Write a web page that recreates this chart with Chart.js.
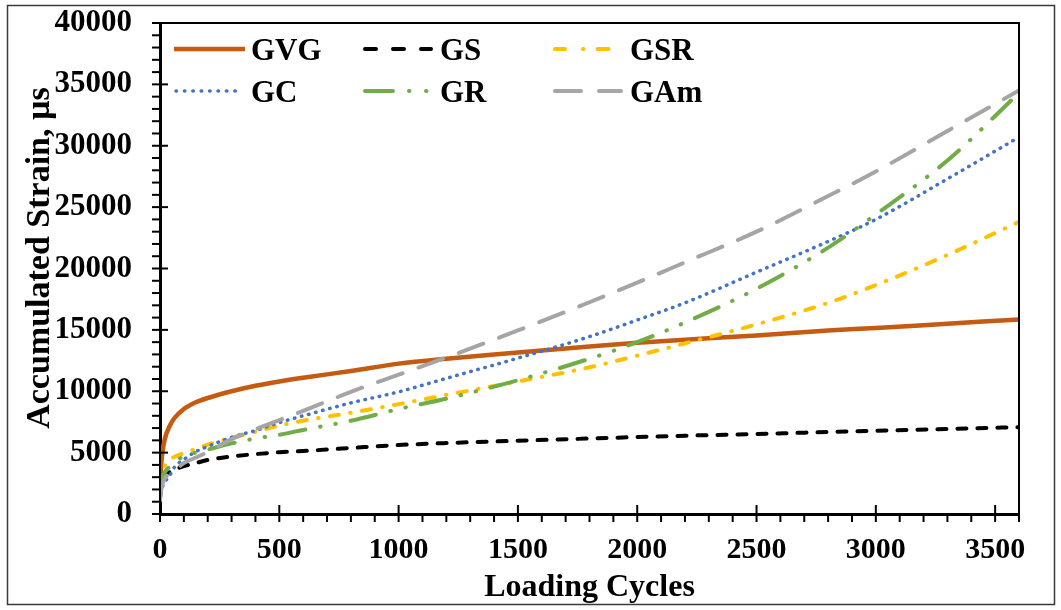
<!DOCTYPE html>
<html>
<head>
<meta charset="utf-8">
<script src="https://cdn.jsdelivr.net/npm/chart.js@4.4.1/dist/chart.umd.min.js"></script>
<style>
  html, body { margin: 0; padding: 0; background: #fff; }
  #wrap { width: 1061px; height: 610px; }
</style>
</head>
<body>
<div id="wrap"><canvas id="chart" width="1061" height="610"></canvas></div>
<script>
// values
const cycles = [0, 5, 10, 20, 40, 60, 100, 150, 200, 300, 400, 500, 600, 800, 1000, 1200, 1500, 1800, 2000, 2200, 2500, 2800, 3000, 3300, 3600];
const gvg = [2000, 4000, 5000, 6100, 7150, 7800, 8550, 9100, 9450, 10000, 10450, 10800, 11100, 11650, 12250, 12650, 13150, 13650, 13950, 14200, 14550, 14950, 15150, 15500, 15850];
const gs  = [1300, 2200, 2700, 3150, 3400, 3600, 3900, 4150, 4400, 4680, 4880, 5030, 5130, 5380, 5620, 5780, 5970, 6150, 6270, 6380, 6520, 6680, 6780, 6930, 7080];
const gsr = [2300, 3000, 3400, 3900, 4400, 4650, 4950, 5300, 5650, 6200, 6700, 7200, 7600, 8250, 8950, 9700, 10800, 11950, 12900, 13900, 15450, 17200, 18650, 21100, 23800];
const gc  = [1700, 2000, 2200, 2600, 3100, 3800, 4450, 5080, 5500, 6250, 6800, 7450, 8000, 9050, 9950, 11050, 12700, 14450, 15800, 17200, 19700, 22200, 24000, 27300, 30700];
const gr  = [1800, 2500, 2900, 3400, 3850, 4200, 4700, 5000, 5250, 5750, 6150, 6450, 6850, 7600, 8550, 9400, 10900, 12650, 14000, 15600, 18350, 21700, 24400, 28800, 34300];
const gam = [1100, 2000, 2400, 2900, 3300, 3550, 4150, 4600, 5050, 6100, 6900, 7650, 8400, 9950, 11350, 12750, 14950, 17250, 18850, 20500, 23000, 25900, 27900, 31200, 34500];

const seriesNames = ['GVG', 'GS', 'GSR', 'GC', 'GR', 'GAm'];
const xTicks = [0, 500, 1000, 1500, 2000, 2500, 3000, 3500];
const yTicks = [0, 5000, 10000, 15000, 20000, 25000, 30000, 35000, 40000];
const xTitle = 'Loading Cycles';
const yTitle = 'Accumulated Strain, µs';

const FONT = "'Liberation Serif', 'Times New Roman', serif";

const pts = arr => arr.map((v, i) => ({ x: cycles[i], y: v }));

function line(label, values, color, width, dash, order) {
  return {
    label: label,
    data: pts(values),
    borderColor: color,
    backgroundColor: color,
    borderWidth: width,
    borderDash: dash,
    borderCapStyle: dash.length ? 'round' : 'butt',
    pointRadius: 0,
    fill: false,
    cubicInterpolationMode: 'monotone',
    order: order
  };
}

const datasets = [
  line(seriesNames[0], gvg, '#C55A11', 4.5, [], 6),
  line(seriesNames[1], gs, '#000000', 4, [9, 11], 5),
  line(seriesNames[2], gsr, '#FFC000', 4, [9, 11.5, 0.5, 11.5], 4),
  line(seriesNames[3], gc, '#4472C4', 3.5, [0.5, 6.8], 3),
  line(seriesNames[4], gr, '#70AD47', 4, [26, 15, 0.5, 15, 0.5, 15], 2),
  line(seriesNames[5], gam, '#A5A5A5', 4, [26, 17], 1)
];

// legend: slot positions and the sample dash patterns
const legendSlots = [[174, 49], [363, 49], [553, 49], [174, 91], [363, 91], [553, 91]];
const legendDash = [[], [11, 17], [10, 18, 0.5, 14, 11, 100], [0.5, 7.9], [28, 16, 0.5, 16.5, 0.5, 20], [26, 18, 22, 100]];

function minorTicks(ctx, scale, majors, horizontal, edge) {
  const step = (majors[1] - majors[0]) / 5;
  for (let v = scale.min; v <= scale.max + 1e-6; v += step) {
    const p = scale.getPixelForValue(v);
    const major = majors.some(m => Math.abs(m - v) < 1e-6);
    ctx.beginPath();
    if (horizontal) {
      ctx.moveTo(p, edge + 8);
      ctx.lineTo(p, edge - (major ? 9 : 0));
    } else {
      ctx.moveTo(edge - 8, p);
      ctx.lineTo(edge + (major ? 8 : 0), p);
    }
    ctx.stroke();
  }
}

const framePlugin = {
  id: 'frame',
  beforeDraw(chart) {
    const ctx = chart.ctx;
    ctx.save();
    ctx.fillStyle = '#fff';
    ctx.fillRect(0, 0, chart.width, chart.height);
    ctx.strokeStyle = '#3a3a3a';
    ctx.lineWidth = 1.5;
    ctx.strokeRect(7.5, 5.5, 1047, 599);
    ctx.restore();
  },
  afterDraw(chart) {
    const { ctx, chartArea: a, scales: { x, y } } = chart;
    ctx.save();
    ctx.strokeStyle = '#000';
    ctx.lineWidth = 2;
    ctx.strokeRect(a.left, a.top, a.right - a.left, a.bottom - a.top);
    minorTicks(ctx, y, yTicks, false, a.left);
    minorTicks(ctx, x, xTicks, true, a.bottom);

    // y axis title, placed a little above the axis middle as in the original
    ctx.save();
    ctx.translate(49, 258);
    ctx.rotate(-Math.PI / 2);
    ctx.font = 'bold 34px ' + FONT;
    ctx.fillStyle = '#000';
    ctx.textAlign = 'center';
    ctx.textBaseline = 'alphabetic';
    ctx.fillText(yTitle, 0, 0);
    ctx.restore();

    // legend
    ctx.font = 'bold 31px ' + FONT;
    ctx.textBaseline = 'alphabetic';
    ctx.textAlign = 'left';
    chart.data.datasets.forEach((ds, i) => {
      const [lx, ly] = legendSlots[i];
      ctx.save();
      ctx.strokeStyle = ds.borderColor;
      ctx.lineWidth = ds.borderWidth;
      const dash = legendDash[i];
      ctx.setLineDash(dash);
      ctx.lineCap = dash.length ? 'round' : 'butt';
      ctx.beginPath();
      if (dash.length) {
        ctx.moveTo(lx + 2, ly);
        ctx.lineTo(lx + 68, ly);
      } else {
        ctx.moveTo(lx, ly);
        ctx.lineTo(lx + 71, ly);
      }
      ctx.stroke();
      ctx.restore();
      ctx.fillStyle = '#000';
      ctx.fillText(ds.label, lx + 77, ly + 11);
    });
    ctx.restore();
  }
};

new Chart(document.getElementById('chart'), {
  type: 'line',
  data: { datasets: datasets },
  plugins: [framePlugin],
  options: {
    responsive: false,
    animation: false,
    layout: { padding: { left: 0, top: 23, right: 42, bottom: 0 } },
    plugins: { legend: { display: false }, tooltip: { enabled: false } },
    scales: {
      x: {
        type: 'linear',
        min: 0,
        max: 3600,
        afterBuildTicks(scale) { scale.ticks = xTicks.map(v => ({ value: v })); },
        afterFit(scale) {
          scale.height = 96;
          scale.paddingLeft = 0;
          scale.paddingRight = 0;
        },
        grid: { display: false, drawTicks: false },
        border: { display: true, color: '#000', width: 3 },
        ticks: {
          autoSkip: false,
          maxRotation: 0,
          padding: 21,
          color: '#000',
          callback: v => String(v),
          font: { family: FONT, size: 30, weight: 'bold', lineHeight: 1 }
        },
        title: {
          display: true,
          text: xTitle,
          color: '#000',
          padding: { top: 0, bottom: 6 },
          font: { family: FONT, size: 32, weight: 'bold', lineHeight: 1 }
        }
      },
      y: {
        type: 'linear',
        min: 0,
        max: 40000,
        afterBuildTicks(scale) { scale.ticks = yTicks.map(v => ({ value: v })); },
        afterFit(scale) {
          scale.width = 160;
          scale.paddingTop = 0;
          scale.paddingBottom = 0;
        },
        grid: { display: false, drawTicks: false },
        border: { display: true, color: '#000', width: 3 },
        ticks: {
          padding: 28,
          color: '#000',
          callback: v => String(v),
          font: { family: FONT, size: 31, weight: 'bold', lineHeight: 1 }
        },
        title: { display: false }
      }
    }
  }
});
</script>
</body>
</html>
